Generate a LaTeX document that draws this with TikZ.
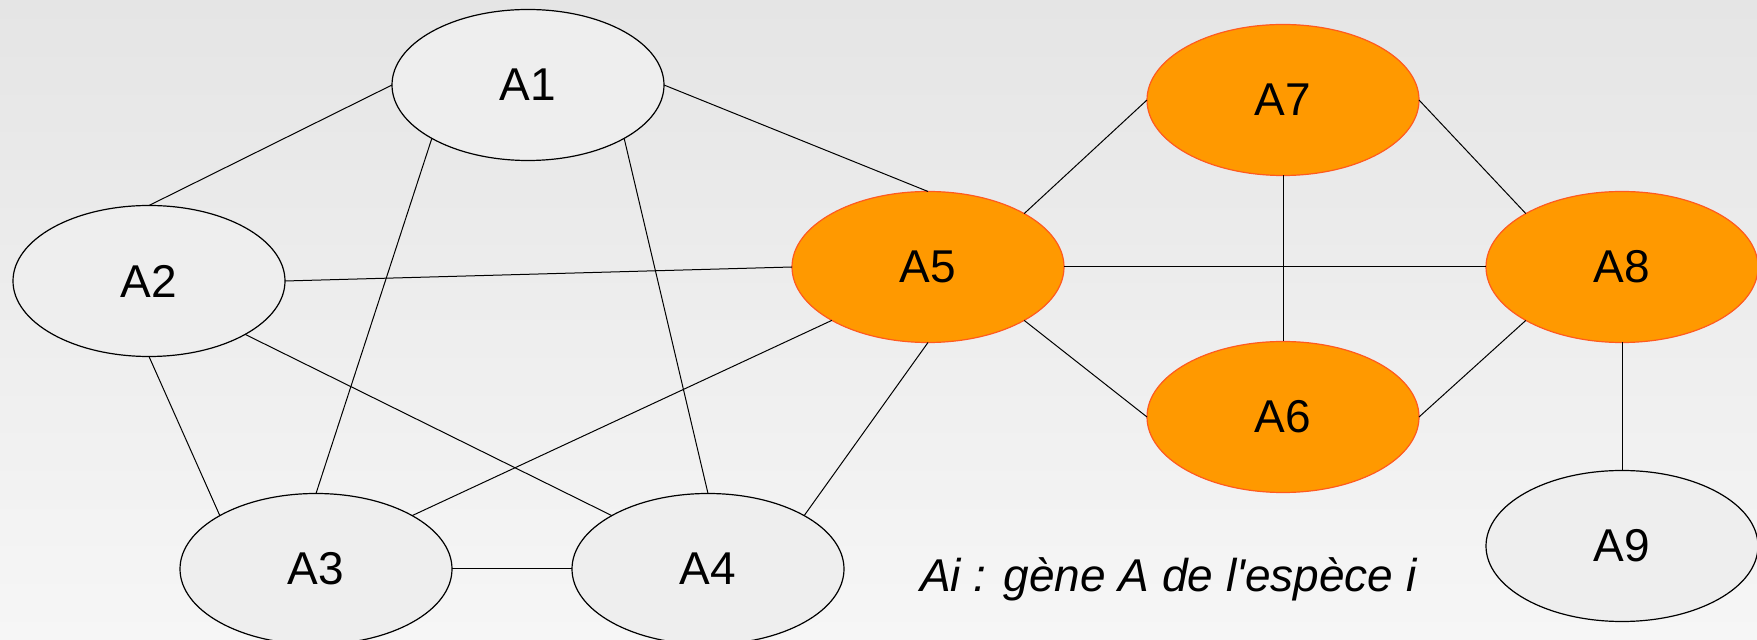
\documentclass[tikz,border=0pt]{standalone}
\usepackage{fontspec}
\setmainfont{Liberation Sans}
\usepackage{tikz}
\usetikzlibrary{shapes.geometric}
\definecolor{bgtop}{HTML}{E5E5E5}
\definecolor{bgbottom}{HTML}{F6F6F6}
\definecolor{genefill}{HTML}{EEEEEE}
\definecolor{hitfill}{HTML}{FF9900}
\definecolor{hitline}{HTML}{FF5A1F}
\begin{document}
\begin{tikzpicture}[x=0.5pt,y=-0.5pt,
  gene/.style={ellipse,draw=black,line width=0.6pt,fill=genefill,inner sep=0pt,outer sep=0pt,
    minimum width=136pt,minimum height=75.5pt,font=\fontsize{23}{27}\selectfont},
  hit/.style={gene,draw=hitline,fill=hitfill},
  link/.style={draw=black,line width=0.5pt}]
% page with its soft grey gradient
\shade[top color=bgtop,bottom color=bgbottom] (0,0) rectangle (1757,640);
\useasboundingbox (0,0) rectangle (1757,640);
% genes of the left group
\node[gene] (a1) at (528,85) {A1};
\node[gene] (a2) at (149,281) {A2};
\node[gene] (a3) at (316,569) {A3};
\node[gene] (a4) at (708,569) {A4};
% highlighted genes
\node[hit] (a5) at (928,267) {A5};
\node[hit] (a7) at (1283,100) {A7};
\node[hit] (a6) at (1283,417) {A6};
\node[hit] (a8) at (1622,267) {A8};
\node[gene] (a9) at (1622,546) {A9};
\node[anchor=base west,font=\fontsize{23}{27}\selectfont\itshape] (legend) at (913,592) {Ai : gène A de l\textquotesingle espèce i};
% links
\draw[link] (a1.west) -- (a2.north);
\draw[link] (a1.east) -- (a5.north);
\draw[link] (a1.south west) -- (a3.north);
\draw[link] (a1.south east) -- (a4.north);
\draw[link] (a2.east) -- (a5.west);
\draw[link] (a2.south) -- (a3.north west);
\draw[link] (a2.south east) -- (a4.north west);
\draw[link] (a3.east) -- (a4.west);
\draw[link] (a3.north east) -- (a5.south west);
\draw[link] (a4.north east) -- (a5.south);
\draw[link] (a5.north east) -- (a7.west);
\draw[link] (a5.east) -- (a8.west);
\draw[link] (a5.south east) -- (a6.west);
\draw[link] (a7.south) -- (a6.north);
\draw[link] (a7.east) -- (a8.north west);
\draw[link] (a6.east) -- (a8.south west);
\draw[link] (a8.south) -- (a9.north);
\end{tikzpicture}
\end{document}
